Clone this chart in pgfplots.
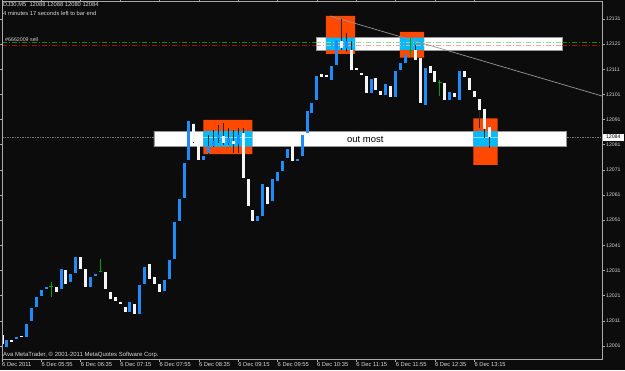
\documentclass[border=0pt]{standalone}
\usepackage{pgfplots}
\pgfplotsset{compat=1.18}
\usepackage{pgfplotstable}
\usepackage{fontspec}
\setmainfont{Liberation Sans}
\definecolor{bg}{RGB}{12,12,12}
\definecolor{fg}{RGB}{215,215,215}
\definecolor{frame}{RGB}{170,170,170}
\definecolor{cblue}{RGB}{30,140,250}
\definecolor{cwhite}{RGB}{245,245,245}
\definecolor{cgreen}{RGB}{0,160,0}
\definecolor{zone}{RGB}{255,72,0}
\definecolor{zonex}{RGB}{0,186,255}
\definecolor{lgreen}{RGB}{0,150,0}
\definecolor{lred}{RGB}{190,0,0}
\definecolor{lgreenL}{RGB}{150,220,150}
\definecolor{lredL}{RGB}{240,160,160}
\definecolor{wick}{RGB}{40,40,40}

\pgfplotstableread{
i o h l c
0 12005.3 12005.3 12001.8 12001.8
2 12003.4 12003.4 12002.7 12002.7
4 12005.2 12005.2 12004.7 12004.7
11 12024.4 12024.4 12022.7 12022.7
13 12031.5 12031.5 12025.8 12025.8
16 12036.4 12036.4 12031.7 12031.7
17 12031.5 12031.5 12024.6 12024.6
21 12030.5 12030.5 12023.6 12023.6
22 12022.5 12022.5 12019.8 12019.8
23 12020.5 12020.5 12018.9 12018.9
24 12018.5 12018.5 12017.8 12017.8
25 12016.4 12016.4 12014.6 12014.6
27 12017.7 12017.7 12013.7 12013.7
30 12033.5 12033.5 12027.6 12027.6
31 12028.6 12028.6 12025.6 12025.6
32 12025.5 12025.5 12022.6 12022.6
39 12089.5 12089.5 12081.7 12082.2
40 12081.6 12081.6 12074.9 12074.9
45 12084.6 12089.6 12080.9 12081.6
47 12082.5 12086.9 12077.7 12081.6
49 12085.6 12087.7 12067.7 12067.7
50 12067.4 12067.4 12056.6 12056.6
51 12055.3 12055.3 12050.8 12050.8
54 12064.3 12064.3 12057.7 12057.7
59 12080.5 12080.5 12074.6 12074.6
65 12109.4 12109.4 12108.1 12108.1
66 12108.5 12108.5 12107.8 12107.8
69 12122.4 12130.9 12118.7 12119.7
71 12118.9 12122.4 12110.7 12110.7
72 12111.4 12111.4 12110.7 12110.7
73 12109.6 12109.6 12109.0 12109.0
74 12108.3 12108.3 12101.8 12101.8
76 12107.5 12107.5 12102.8 12102.8
77 12102.4 12102.4 12100.8 12100.8
79 12104.3 12104.3 12099.9 12099.9
84 12118.7 12120.7 12114.7 12114.7
85 12115.4 12115.4 12097.8 12097.8
87 12112.4 12112.4 12109.7 12109.7
88 12110.4 12110.4 12106.1 12106.1
90 12105.6 12105.6 12098.8 12098.8
92 12101.5 12101.5 12099.9 12099.9
94 12110.4 12110.4 12108.1 12108.1
95 12107.4 12107.4 12102.8 12102.8
96 12102.3 12102.3 12099.9 12099.9
97 12099.5 12099.5 12087.8 12094.8
98 12095.5 12095.5 12083.8 12087.5
99 12088 12088 12080 12084
}\whitebars

\pgfplotstableread{
i o h l c
1 12000.7 12003.4 12000.7 12003.4
3 12003.8 12004.4 12003.8 12004.4
5 12004.7 12009.6 12004.7 12009.6
6 12010.9 12016.4 12010.9 12016.4
7 12016.6 12020.4 12016.6 12020.4
8 12020.9 12023.5 12020.9 12023.5
9 12023.8 12024.4 12023.8 12024.4
12 12023.8 12031.5 12023.8 12031.5
14 12026.6 12029.6 12026.6 12029.6
15 12029.9 12036.4 12029.9 12036.4
18 12024.6 12028.6 12024.6 12028.6
19 12028.9 12029.6 12028.9 12029.6
26 12014.6 12018.4 12014.6 12018.4
28 12013.7 12025.2 12013.7 12025.2
29 12025.6 12032.4 12025.6 12032.4
33 12022.9 12027.2 12022.9 12027.2
34 12027.6 12035.5 12027.6 12035.5
35 12035.7 12050.4 12035.7 12050.4
36 12050.8 12059.4 12050.8 12059.4
37 12059.7 12073.6 12059.7 12073.6
38 12074.9 12090.4 12074.9 12090.4
41 12074.9 12076.5 12074.9 12076.5
42 12077.6 12084.9 12077.6 12080.5
43 12080.5 12086.9 12080.1 12082.6
44 12083.6 12088.9 12081.7 12084.9
46 12081.6 12087.7 12080.9 12083.6
48 12081.6 12087.7 12077.7 12084.9
52 12050.8 12052.7 12050.8 12052.7
53 12052.8 12065.4 12052.8 12065.4
55 12058.8 12067.3 12058.8 12067.3
56 12066.7 12070.3 12066.7 12070.3
57 12070.7 12074.5 12070.7 12074.5
58 12075.8 12079.4 12075.8 12079.4
60 12074.8 12075.4 12074.8 12075.4
61 12076.6 12084.9 12076.6 12084.9
62 12085.6 12094.4 12085.6 12094.4
63 12093.7 12097.5 12093.7 12097.5
64 12098.8 12108.5 12098.8 12108.5
67 12106.7 12112.3 12106.7 12112.3
68 12112.7 12122.6 12112.7 12122.6
70 12119.7 12125.4 12118.0 12122.4
75 12101.8 12107.4 12101.8 12107.4
78 12100.8 12105.4 12100.8 12105.4
80 12099.9 12110.3 12099.9 12110.3
81 12110.7 12113.4 12110.7 12113.4
82 12113.6 12116.7 12113.6 12116.7
86 12097.0 12111.5 12097.0 12111.5
91 12099.0 12102.3 12099.0 12102.3
93 12099.0 12110.3 12099.0 12110.3
}\bluebars

\pgfplotstableread{
i o h l c
10 12024.7 12026.5 12020.6 12024.7
20 12030.7 12035.6 12030.6 12030.7
83 12118.5 12123.3 12116.0 12118.5
89 12105.9 12106.7 12100.4 12105.9
}\greenbars

\begin{document}
\begin{tikzpicture}[x=1bp,y=1bp]
\fill[bg] (0,0) rectangle (625,-370);
\begin{axis}[
  at={(2bp,-1.7bp)}, anchor=north west,
  scale only axis, width=600bp, height=357.3bp,
  xmin=0, xmax=121.95, ymin=11995.81, ymax=12137.87,
  scaled x ticks=false, scaled y ticks=false,
  axis on top,
  clip mode=individual,
  axis line style={frame, line width=0.8bp},
  tick align=outside, major tick length=2.5bp,
  tick style={frame, line width=0.6bp},
  xtick={0,8,...,96},
  xticklabels={6 Dec 2011, 6 Dec 05:55, 6 Dec 06:35, 6 Dec 07:15, 6 Dec 07:55, 6 Dec 08:35, 6 Dec 09:15, 6 Dec 09:55, 6 Dec 10:35, 6 Dec 11:15, 6 Dec 11:55, 6 Dec 12:35, 6 Dec 13:15},
  ytick={12001,12011,...,12131},
  yticklabels={12001,12011,12021,12031,12041,12051,12061,12071,12081,12091,12101,12111,12121,12131},
  yticklabel pos=right,
  xticklabel style={anchor=base west, inner sep=0pt, yshift=-5bp, text=fg, font=\fontsize{5.8}{7}\selectfont},
  yticklabel style={anchor=west, inner sep=0pt, xshift=1.5bp, text=fg, font=\fontsize{5.2}{6}\selectfont},
]
% bid line
\addplot[color={rgb,255:red,120;green,120;blue,120}, line width=0.8bp, dash pattern=on 1.5bp off 1bp] coordinates {(0,12084) (121.95,12084)};
% white bands
\addplot[fill=white, draw={rgb,255:red,150;green,150;blue,150}, line width=0.7bp] coordinates {(30.89,12086.46) (114.78,12086.46) (114.78,12080.22) (30.89,12080.22) (30.89,12086.46)};
\addplot[fill=white, draw={rgb,255:red,150;green,150;blue,150}, line width=0.7bp] coordinates {(63.82,12123.56) (113.82,12123.56) (113.82,12118.67) (63.82,12118.67) (63.82,12123.56)};
% orange zones
\addplot[fill=zone, draw=none] coordinates {(40.91,12090.84) (50.87,12090.84) (50.87,12077.32) (40.91,12077.32) (40.91,12090.84)};
\addplot[fill=zone, draw=none] coordinates {(65.85,12132.19) (71.75,12132.19) (71.75,12117.08) (65.85,12117.08) (65.85,12132.19)};
\addplot[fill=zone, draw=none] coordinates {(80.89,12125.83) (85.77,12125.83) (85.77,12115.61) (80.89,12115.61) (80.89,12125.83)};
\addplot[fill=zone, draw=none] coordinates {(95.79,12091.51) (100.75,12091.51) (100.75,12072.95) (95.79,12072.95) (95.79,12091.51)};
% overlaps
\addplot[fill=zonex, draw=none] coordinates {(40.91,12086.46) (50.87,12086.46) (50.87,12080.22) (40.91,12080.22) (40.91,12086.46)};
\addplot[fill=zonex, draw=none] coordinates {(65.85,12123.56) (71.75,12123.56) (71.75,12118.67) (65.85,12118.67) (65.85,12123.56)};
\addplot[fill=zonex, draw=none] coordinates {(80.89,12123.56) (85.77,12123.56) (85.77,12118.67) (80.89,12118.67) (80.89,12123.56)};
\addplot[fill=zonex, draw=none] coordinates {(95.79,12086.46) (100.75,12086.46) (100.75,12080.22) (95.79,12080.22) (95.79,12086.46)};
\addplot[color={rgb,255:red,140;green,220;blue,255}, line width=0.8bp] coordinates {(40.91,12084) (50.87,12084)};
\addplot[color={rgb,255:red,140;green,220;blue,255}, line width=0.8bp] coordinates {(95.79,12084) (100.75,12084)};
% order level lines
\addplot[lgreen, line width=0.8bp, dash pattern=on 5bp off 2bp on 1bp off 2bp] coordinates {(0,12121.73) (63.82,12121.73)};
\addplot[lgreen, line width=0.8bp, dash pattern=on 5bp off 2bp on 1bp off 2bp] coordinates {(113.82,12121.73) (121.95,12121.73)};
\addplot[lgreenL, line width=0.8bp, dash pattern=on 5bp off 2bp on 1bp off 2bp] coordinates {(63.82,12121.73) (113.82,12121.73)};
\addplot[lred, line width=0.8bp, dash pattern=on 5bp off 2bp on 1bp off 2bp] coordinates {(0,12120.54) (63.82,12120.54)};
\addplot[lred, line width=0.8bp, dash pattern=on 5bp off 2bp on 1bp off 2bp] coordinates {(113.82,12120.54) (121.95,12120.54)};
\addplot[lredL, line width=0.8bp, dash pattern=on 5bp off 2bp on 1bp off 2bp] coordinates {(63.82,12120.54) (113.82,12120.54)};
% trendline
\addplot[color={rgb,255:red,150;green,150;blue,150}, line width=0.7bp] coordinates {(66.67,12132.19) (121.95,12100.38)};
% wicks
\addplot[draw=none, mark=none, error bars/.cd, y dir=both, y explicit, error mark=none, error bar style={draw=wick, line width=0.9bp, solid}]
  table[x=i, y expr={(\thisrow{h}+\thisrow{l})/2}, y error expr={(\thisrow{h}-\thisrow{l})/2}] {\whitebars};
\addplot[draw=none, mark=none, error bars/.cd, y dir=both, y explicit, error mark=none, error bar style={draw=wick, line width=0.9bp, solid}]
  table[x=i, y expr={(\thisrow{h}+\thisrow{l})/2}, y error expr={(\thisrow{h}-\thisrow{l})/2}] {\bluebars};
\addplot[draw=none, mark=none, error bars/.cd, y dir=both, y explicit, error mark=none, error bar style={draw=cgreen, line width=1bp, solid}]
  table[x=i, y expr={(\thisrow{h}+\thisrow{l})/2}, y error expr={(\thisrow{h}-\thisrow{l})/2}] {\greenbars};
% bodies
\addplot[draw=none, mark=none, error bars/.cd, y dir=both, y explicit, error mark=none, error bar style={draw=cwhite, line width=3bp, line cap=butt, solid}]
  table[x=i, y expr={(\thisrow{o}+\thisrow{c})/2}, y error expr={abs(\thisrow{o}-\thisrow{c})/2}] {\whitebars};
\addplot[draw=none, mark=none, error bars/.cd, y dir=both, y explicit, error mark=none, error bar style={draw=cblue, line width=3bp, line cap=butt, solid}]
  table[x=i, y expr={(\thisrow{o}+\thisrow{c})/2}, y error expr={abs(\thisrow{o}-\thisrow{c})/2}] {\bluebars};
\addplot[only marks, mark=-, mark size=1.8bp, cgreen, mark options={line width=1bp}] table[x=i, y=c] {\greenbars};
% texts
\node[anchor=base west, inner sep=0pt, text=black, font=\fontsize{9.5}{11}\selectfont] at (axis cs:70.12,12081.9) {out most};
\node[anchor=west, inner sep=0pt, fill=white, text=black, minimum width=20.6bp, minimum height=6.7bp, font=\fontsize{5.2}{6}\selectfont, xshift=0.7bp] at (axis cs:121.95,12084) {12084};
\end{axis}
\node[anchor=base west, inner sep=0pt, text=fg, font=\fontsize{5.8}{7}\selectfont] at (3,-6.7) {DJ30,M5\ \ 12088 12088 12080 12084};
\node[anchor=base west, inner sep=0pt, text=fg, font=\fontsize{5.8}{7}\selectfont] at (3,-15) {4 minutes 17 seconds left to bar end};
\node[anchor=base west, inner sep=0pt, text=fg, font=\fontsize{5.3}{7}\selectfont] at (5,-41) {\#6662009 sell};
\node[anchor=base west, inner sep=0pt, text=fg, font=\fontsize{6}{7}\selectfont] at (3,-356.7) {Ava MetaTrader, © 2001-2011 MetaQuotes Software Corp.};
\pgfresetboundingbox
\path (0,0) rectangle (625,-370);
\end{tikzpicture}
\end{document}
